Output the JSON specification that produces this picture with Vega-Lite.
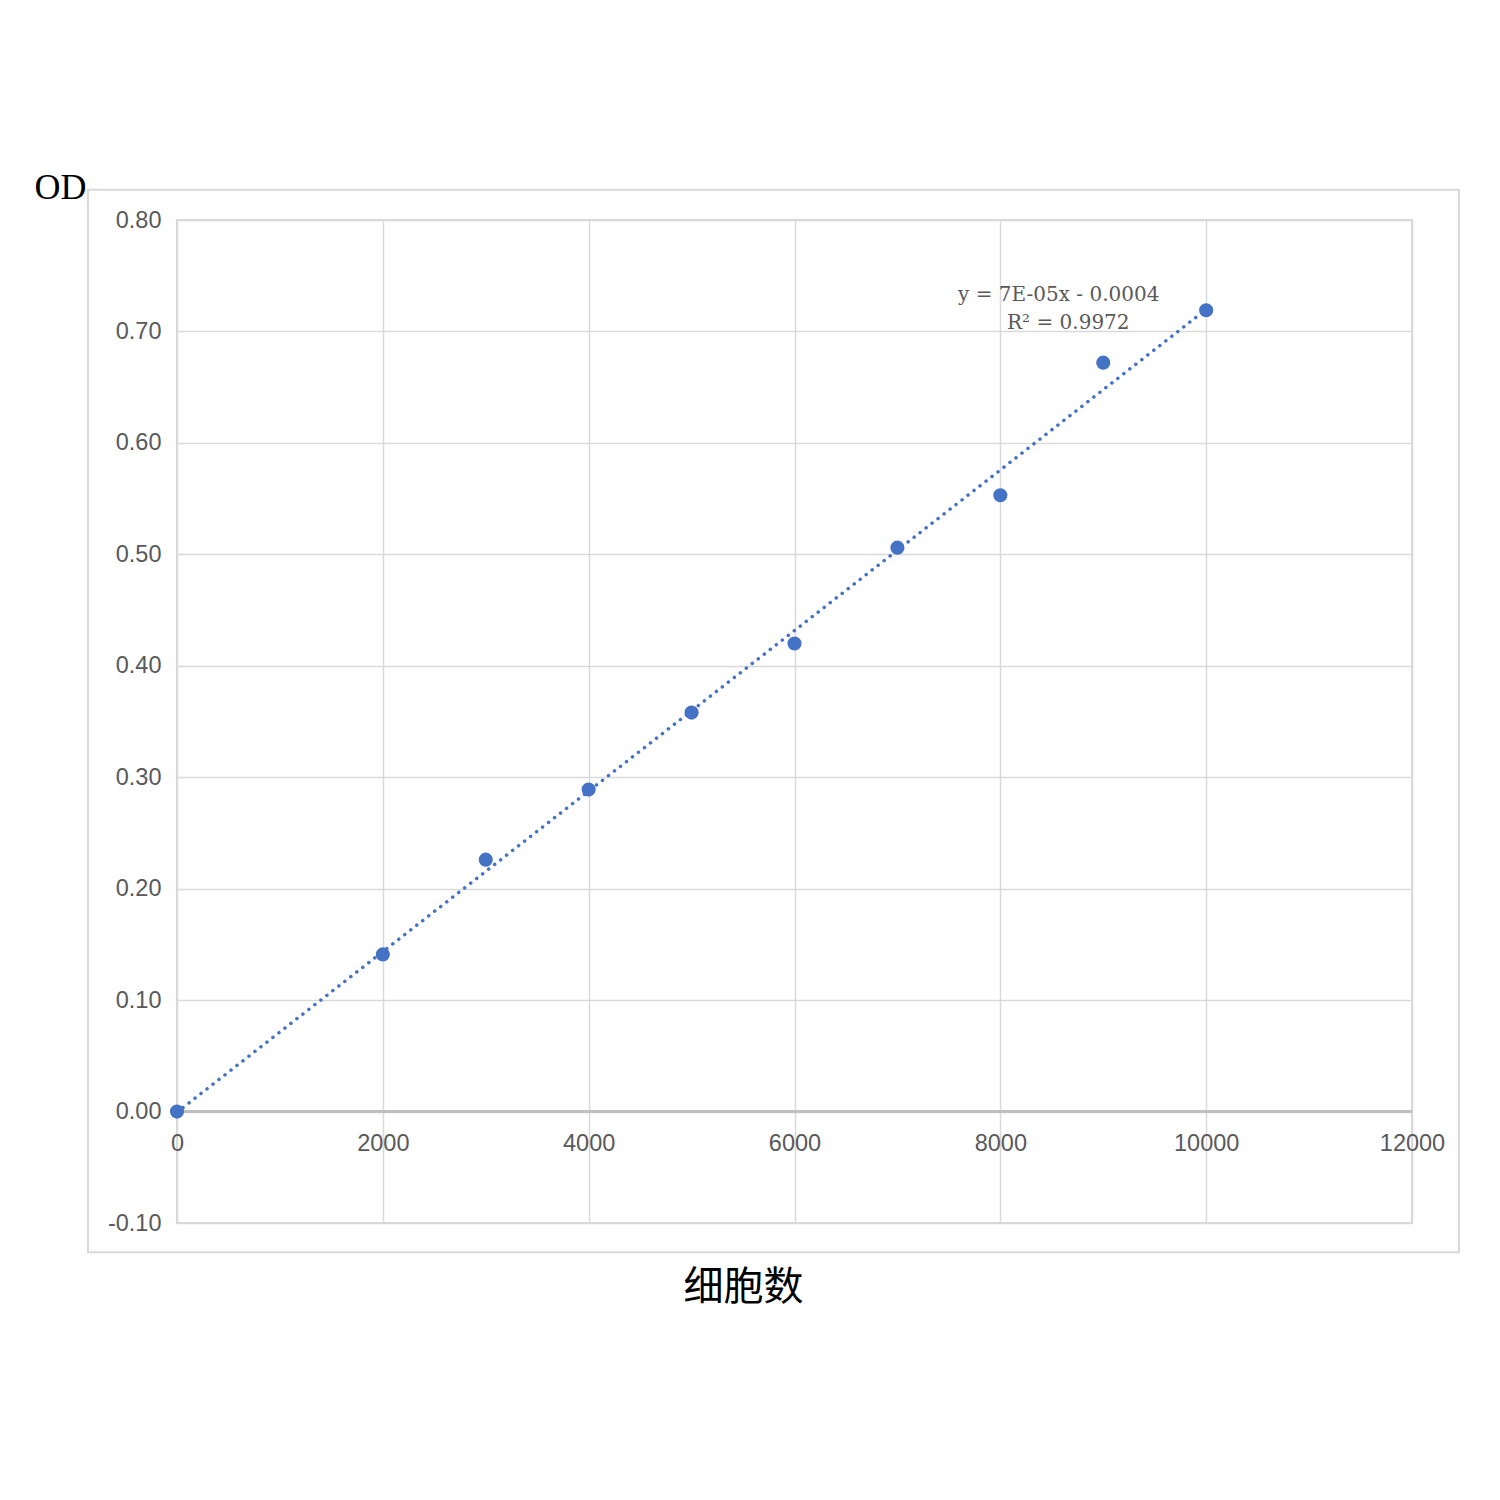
{
  "$schema": "https://vega.github.io/schema/vega-lite/v6.json",
  "autosize": "none",
  "width": 1235,
  "height": 1003,
  "padding": {"left": 177, "top": 220, "right": 88, "bottom": 277},
  "background": "white",
  "datasets": {
    "points": [
      {"cells": 0, "od": 0.0},
      {"cells": 2000, "od": 0.141},
      {"cells": 3000, "od": 0.226},
      {"cells": 4000, "od": 0.289},
      {"cells": 5000, "od": 0.358},
      {"cells": 6000, "od": 0.42},
      {"cells": 7000, "od": 0.506},
      {"cells": 8000, "od": 0.553},
      {"cells": 9000, "od": 0.672},
      {"cells": 10000, "od": 0.719}
    ],
    "notes": [
      {"cells": 7589, "od": 0.733, "label": "y = 7E-05x - 0.0004"},
      {"cells": 8065, "od": 0.7075, "label": "R² = 0.9972"}
    ],
    "frame": [
      {"x0": -865, "x1": 12456, "y0": 0.8272, "y1": -0.1262}
    ]
  },
  "encoding": {
    "x": {
      "field": "cells",
      "type": "quantitative",
      "scale": {"domain": [0, 12000], "nice": false, "zero": false},
      "axis": {
        "title": "细胞数",
        "titleFont": "Noto Sans CJK SC",
        "titleFontSize": 40,
        "titleFontWeight": "normal",
        "titleColor": "black",
        "titleX": 566,
        "titleY": 64,
        "titleAlign": "center",
        "titleBaseline": "middle",
        "values": [0, 2000, 4000, 6000, 8000, 10000, 12000],
        "format": "d",
        "ticks": false,
        "domain": false,
        "labelPadding": -92,
        "labelFlush": false,
        "labelOverlap": false,
        "labelFont": "Liberation Sans",
        "labelFontSize": 23.5,
        "labelColor": "#595959",
        "grid": true,
        "gridColor": "#d9d9d9",
        "gridWidth": 1.5
      }
    },
    "y": {
      "field": "od",
      "type": "quantitative",
      "scale": {"domain": [-0.1, 0.8], "nice": false, "zero": false},
      "axis": {
        "title": "OD",
        "titleFont": "Liberation Serif",
        "titleFontSize": 36,
        "titleFontWeight": "normal",
        "titleColor": "black",
        "titleAngle": 0,
        "titleX": -117,
        "titleY": -33,
        "titleAlign": "center",
        "titleBaseline": "middle",
        "values": [-0.1, 0, 0.1, 0.2, 0.3, 0.4, 0.5, 0.6, 0.7, 0.8],
        "labelExpr": "replace(format(datum.value, '.2f'), '−', '-')",
        "ticks": false,
        "domain": false,
        "labelPadding": 16,
        "labelFlush": false,
        "labelFont": "Liberation Sans",
        "labelFontSize": 23.5,
        "labelColor": "#595959",
        "grid": true,
        "gridColor": "#d9d9d9",
        "gridWidth": 1.5
      }
    }
  },
  "layer": [
    {
      "data": {"name": "frame"},
      "mark": {"type": "rect", "fill": null, "stroke": "#d9d9d9", "strokeWidth": 2, "clip": false},
      "encoding": {
        "x": {"field": "x0", "type": "quantitative"},
        "x2": {"field": "x1"},
        "y": {"field": "y0", "type": "quantitative"},
        "y2": {"field": "y1"}
      }
    },
    {
      "data": {"name": "points"},
      "mark": {"type": "rule", "color": "#bfbfbf", "strokeWidth": 2},
      "encoding": {
        "x": {"datum": 0},
        "x2": {"datum": 12000},
        "y": {"datum": 0}
      }
    },
    {
      "data": {"name": "points"},
      "transform": [
        {"regression": "od", "on": "cells", "method": "linear", "extent": [0, 10000]}
      ],
      "mark": {"type": "line", "color": "#4472C4", "strokeWidth": 3.5, "strokeDash": [0.1, 7.5], "strokeCap": "round"}
    },
    {
      "data": {"name": "points"},
      "mark": {"type": "point", "shape": "circle", "filled": true, "opacity": 1, "color": "#4472C4", "size": 200}
    },
    {
      "data": {"name": "notes"},
      "mark": {"type": "text", "align": "left", "baseline": "middle", "font": "DejaVu Serif", "fontSize": 20, "color": "#595959"},
      "encoding": {
        "text": {"field": "label"}
      }
    }
  ],
  "config": {
    "view": {"stroke": "#d9d9d9", "strokeWidth": 2}
  }
}
